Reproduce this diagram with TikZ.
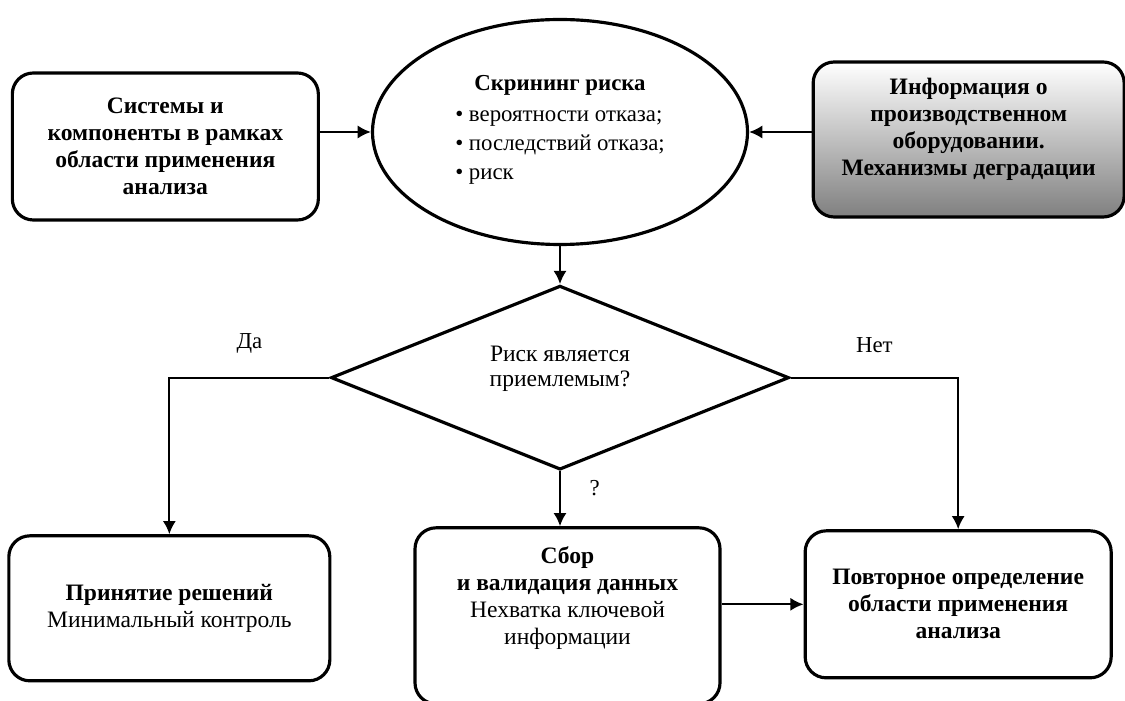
\documentclass[tikz,border=0pt]{standalone}
\usepackage{fontspec}
\setmainfont{Liberation Serif}
\usetikzlibrary{arrows.meta,positioning,shapes.geometric}
\newcommand\liftup[2]{\raisebox{#1}[\height][\depth]{\begin{tabular}{@{}c@{}}#2\end{tabular}}}

\begin{document}
\begin{tikzpicture}[>={Latex[length=7.5pt,width=7.5pt]},line width=1.3pt,
    block/.style={draw,line width=1.8pt,rounded corners=0.42cm,minimum width=6.12cm,minimum height=2.94cm,align=center,font=\fontsize{13.4}{15.4}\selectfont},
    oval/.style={draw,ellipse,line width=1.8pt,minimum width=7.5cm,minimum height=4.5cm,inner sep=0pt,align=center,font=\fontsize{13}{16.5}\selectfont},
    decision/.style={draw,diamond,aspect=2.5,line width=1.8pt,minimum width=9.16cm,minimum height=3.68cm,inner sep=0pt,align=center,font=\fontsize{13.4}{14.5}\selectfont},
    tag/.style={font=\fontsize{13}{14}\selectfont}]
    \useasboundingbox (0,0) rectangle (22.5,14);

    \node[oval] (scr) at (11.2,11.36) {\textbf{Скрининг риска}\\[2pt]
        \begin{tabular}{@{}l@{}}• вероятности отказа;\\• последствий отказа;\\• риск\end{tabular}};
    \node[block] (sys) [left=1.02cm of scr,yshift=-0.29cm] {\textbf{Системы и}\\\textbf{компоненты в рамках}\\\textbf{области применения}\\\textbf{анализа}};
    \node[block,minimum width=6.22cm,minimum height=3.1cm,top color=white,bottom color=black!50] (info) [right=1.25cm of scr,yshift=-0.15cm]
        {\liftup{0.2cm}{\textbf{Информация о}\\\textbf{производственном}\\\textbf{оборудовании.}\\\textbf{Механизмы деградации}}};
    \node[decision] (dec) [below=0.76cm of scr] {\liftup{0.18cm}{Риск является\\приемлемым?}};
    \node[block,minimum width=6.1cm,minimum height=3.52cm] (data) [below=1.1cm of dec,xshift=0.15cm]
        {\liftup{0.34cm}{\textbf{Сбор}\\\textbf{и валидация данных}\\Нехватка ключевой\\информации}};
    \node[block,minimum width=6.42cm,minimum height=2.9cm] (yes) [left=1.64cm of data,yshift=0.15cm]
        {\textbf{Принятие решений}\\Минимальный контроль};
    \node[block] (redo) [right=1.64cm of data,yshift=0.23cm]
        {\textbf{Повторное определение}\\\textbf{области применения}\\\textbf{анализа}};

    \draw[->] (sys.east |- scr.west) -- (scr.west);
    \draw[->] (info.west |- scr.east) -- (scr.east);
    \draw[->] (scr.south) -- (dec.north);
    \draw[->] (dec.west) -| node[tag,pos=0.25,above=0.35cm] {Да} (yes.north);
    \draw[->] (dec.east) -| node[tag,pos=0.25,above=0.35cm] {Нет} (redo.north);
    \draw[->] (dec.south) -- node[tag,right=0.45cm,yshift=0.22cm] {?} (dec.south |- data.north);
    \draw[->] (data.east |- redo.west) -- (redo.west);
\end{tikzpicture}
\end{document}
